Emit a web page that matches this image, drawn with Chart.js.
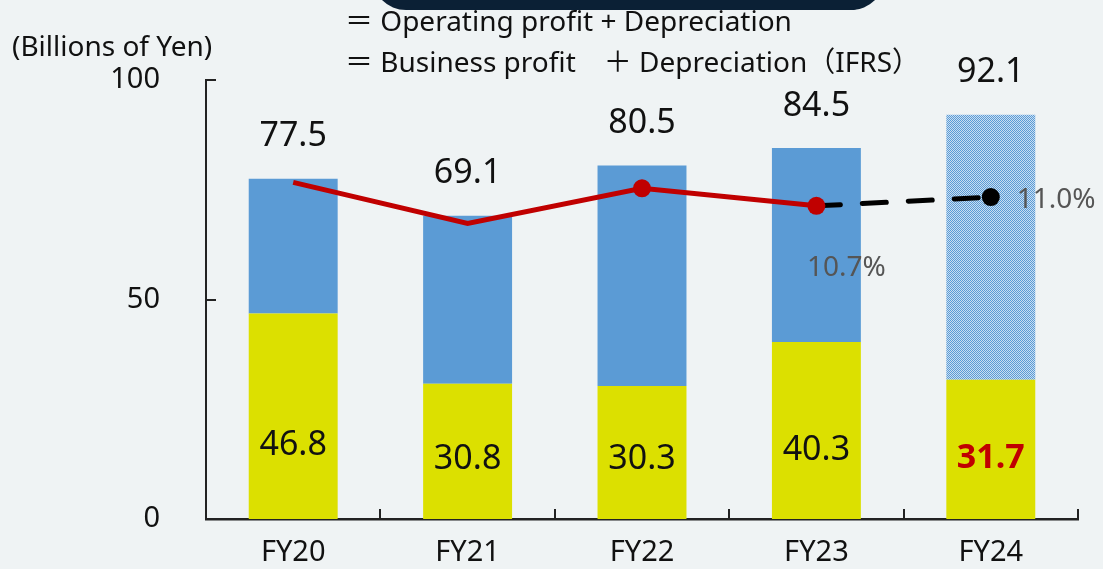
<!DOCTYPE html>
<html><head><meta charset="utf-8">
<script src="https://cdn.jsdelivr.net/npm/chart.js@4/dist/chart.umd.min.js"></script>
<style>
html,body{margin:0;padding:0;background:#eff3f4;overflow:hidden;}
#wrap{position:relative;width:1103px;height:569px;}
#cw{position:absolute;left:0;top:0;width:1103px;height:569px;}
#box{position:absolute;left:372px;top:-60px;width:513px;height:70px;background:#0b2035;border-radius:34px;}
.note{position:absolute;font-family:"Noto Sans","Noto Sans CJK JP",sans-serif;font-size:28px;color:#111;white-space:pre;line-height:1;}
</style></head><body>
<div id="wrap">
<div id="cw"><canvas id="c"></canvas></div>
<div id="box"></div>
<div class="note" style="left:345px;top:6px;">＝ Operating profit + Depreciation</div>
<div class="note" style="left:345px;top:47px;">＝ Business profit　＋ Depreciation（IFRS）</div>
<div class="note" style="left:12px;top:31px;">(Billions of Yen)</div>
</div>
<script>
const categories = ['FY20','FY21','FY22','FY23','FY24'];
const lowerValues = [46.8, 30.8, 30.3, 40.3, 31.7];
const upperValues = [30.7, 38.3, 50.2, 44.2, 60.4];
const totalValues = [77.5, 69.1, 80.5, 84.5, 92.1];
const marginActual = [11.5, 10.1, 11.3, 10.7, null];
const marginForecast = [null, null, null, 10.7, 11.0];
const marginLabels = [null, null, null, '10.7%', '11.0%'];
const yTicks = [0, 50, 100];

const FONT = '"Noto Sans", sans-serif';
const BLUE = '#5b9bd5';
const YELLOW = '#dce000';

function makePattern(){
  const p = document.createElement('canvas');
  p.width = 2; p.height = 2;
  const g = p.getContext('2d');
  g.fillStyle = '#c9def2'; g.fillRect(0,0,2,2);
  g.fillStyle = BLUE; g.fillRect(0,0,1,1); g.fillRect(1,1,1,1);
  return document.getElementById('c').getContext('2d').createPattern(p,'repeat');
}
const pat = makePattern();

const labelPlugin = {
  id:'labels',
  afterDatasetsDraw(chart){
    const ctx = chart.ctx, x = chart.scales.x, y = chart.scales.y, y1 = chart.scales.y1;
    const ca = chart.chartArea;
    ctx.save();
    ctx.strokeStyle = '#222'; ctx.lineWidth = 2;
    const cw = (ca.right - ca.left)/categories.length;
    for (let i=1;i<=categories.length;i++){
      const px = Math.round(ca.left + cw*i);
      ctx.beginPath(); ctx.moveTo(px, ca.bottom); ctx.lineTo(px, ca.bottom-10); ctx.stroke();
    }
    yTicks.forEach(v=>{ if(v===0) return;
      const py = Math.round(y.getPixelForValue(v));
      ctx.beginPath(); ctx.moveTo(ca.left, py); ctx.lineTo(ca.left+10, py); ctx.stroke();
    });
    ctx.textAlign='center'; ctx.textBaseline='middle';
    categories.forEach((c,i)=>{
      const px = x.getPixelForValue(i);
      ctx.font = '34px '+FONT; ctx.fillStyle = '#111';
      ctx.fillText(totalValues[i].toFixed(1), px, y.getPixelForValue(totalValues[i]) - 42);
      const isFc = i === categories.length-1;
      ctx.font = (isFc ? 'bold ' : '') + '34px ' + FONT;
      ctx.fillStyle = isFc ? '#c00000' : '#111';
      ctx.fillText(lowerValues[i].toFixed(1), px, y.getPixelForValue(lowerValues[i]*0.2+7.5));
    });
    ctx.font = '28px '+FONT; ctx.fillStyle = '#555';
    let px3 = x.getPixelForValue(3);
    ctx.textAlign='center';
    ctx.fillText(marginLabels[3], px3+30, y1.getPixelForValue(marginActual[3]) + 62);
    let px4 = x.getPixelForValue(4);
    ctx.textAlign='left';
    ctx.fillText(marginLabels[4], px4+26, y1.getPixelForValue(marginForecast[4]) + 3);
    ctx.restore();
  }
};

new Chart(document.getElementById('c'), {
  data:{
    labels: categories,
    datasets:[
      {type:'line', label:'Margin', data:marginActual, yAxisID:'y1', borderColor:'#c00000', backgroundColor:'#c00000',
       borderWidth:5, pointRadius:[0,0,9,9,0], pointHoverRadius:0, pointBorderWidth:0, order:0, tension:0},
      {type:'line', label:'Forecast', data:marginForecast, yAxisID:'y1', borderColor:'#000', backgroundColor:'#000',
       borderWidth:5, borderDash:[24,22], borderCapStyle:'round', pointRadius:[0,0,0,0,9], pointBorderWidth:0, order:1, tension:0},
      {type:'bar', label:'Lower', data:lowerValues, backgroundColor:YELLOW, stack:'s', order:3,
       categoryPercentage:1, barPercentage:0.51},
      {type:'bar', label:'Upper', data:upperValues, backgroundColor:[BLUE,BLUE,BLUE,BLUE,pat], stack:'s', order:3,
       categoryPercentage:1, barPercentage:0.51}
    ]
  },
  options:{
    responsive:true, maintainAspectRatio:false, animation:false, devicePixelRatio:1,
    layout:{padding:{left:0, top:80, right:25, bottom:0}},
    plugins:{legend:{display:false}, tooltip:{enabled:false}},
    scales:{
      x:{stacked:true, offset:true,
         grid:{display:false, drawTicks:false},
         border:{display:true, color:'#222', width:2.5},
         ticks:{font:{family:'"Noto Sans"', size:29}, color:'#111', padding:16},
         afterFit(s){ s.height = 50; }},
      y:{stacked:true, min:0, max:100,
         afterBuildTicks(s){ s.ticks = yTicks.map(v=>({value:v})); },
         grid:{display:false, drawTicks:false},
         border:{display:true, color:'#222', width:2},
         ticks:{font:{family:'"Noto Sans"', size:29}, color:'#111', padding:46},
         afterFit(s){ s.width = 206; s.paddingTop = 0; s.paddingBottom = 0; }},
      y1:{display:false, min:0, max:15}
    }
  },
  plugins:[labelPlugin]
});
</script>
</body></html>
